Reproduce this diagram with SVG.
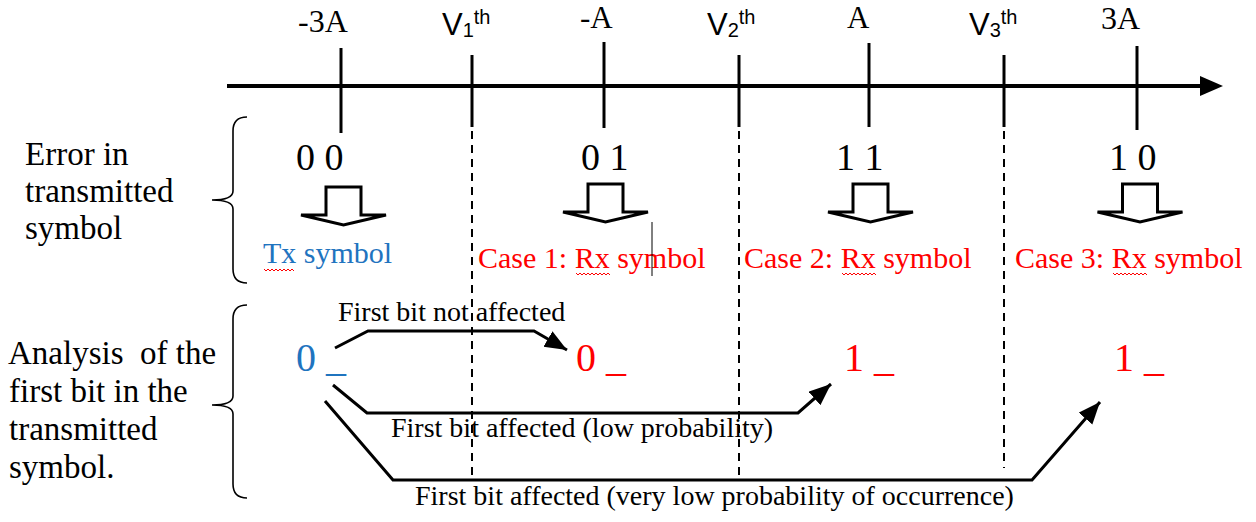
<svg xmlns="http://www.w3.org/2000/svg" width="1256" height="522" viewBox="0 0 1256 522">
<style>
.serif{font-family:"Liberation Serif","Times New Roman",serif;fill:#000}
.sans{font-family:"Liberation Sans",Arial,sans-serif;fill:#000}
.blue{fill:#1f74bf}
.red{fill:#ff0000}
.axis{stroke:#000;stroke-width:4;fill:none}
.tick{stroke:#000;stroke-width:3;fill:none}
.dash{stroke:#000;stroke-width:2;stroke-dasharray:8 6;fill:none}
.conn{stroke:#000;stroke-width:3;fill:none;stroke-linejoin:miter}
.brace{stroke:#000;stroke-width:1.6;fill:none}
.hollow{stroke:#000;stroke-width:3;fill:#fff;stroke-linejoin:miter}
.squig{stroke:#ff0000;stroke-width:1;fill:none}
</style>
<defs>
<marker id="ah" markerUnits="userSpaceOnUse" markerWidth="24" markerHeight="20" refX="22" refY="9" orient="auto">
<path d="M0,0 L22,9 L0,18 Z" fill="#000"/>
</marker>
<path id="blockArrow" d="M-17.5,-38 H17.5 V-10 H42.5 L0,0 L-42.5,-10 H-17.5 Z"/>
</defs>

<g id="axis">
<line class="axis" x1="227" y1="86" x2="1204" y2="86"/>
<polygon points="1200,76 1223,86 1200,96" fill="#000"/>
<line class="tick" x1="341" y1="48" x2="341" y2="133"/>
<line class="tick" x1="472" y1="55" x2="472" y2="127"/>
<line class="tick" x1="604" y1="42" x2="604" y2="128"/>
<line class="tick" x1="739" y1="55" x2="739" y2="127"/>
<line class="tick" x1="869" y1="43" x2="869" y2="127"/>
<line class="tick" x1="1004" y1="55" x2="1004" y2="127"/>
<line class="tick" x1="1137" y1="46" x2="1137" y2="130"/>
</g>

<g id="axis-labels">
<text class="serif" x="298" y="32" font-size="32">-3A</text>
<text class="serif" x="580" y="28" font-size="31">-A</text>
<text class="serif" x="847" y="28" font-size="31">A</text>
<text class="serif" x="1101" y="29" font-size="32">3A</text>
<text class="sans" x="442" y="35" font-size="31">V<tspan font-size="20" dy="2">1</tspan><tspan font-size="20" dy="-13">th</tspan></text>
<text class="sans" x="707" y="35" font-size="31">V<tspan font-size="20" dy="2">2</tspan><tspan font-size="20" dy="-13">th</tspan></text>
<text class="sans" x="969" y="35" font-size="31">V<tspan font-size="20" dy="2">3</tspan><tspan font-size="20" dy="-13">th</tspan></text>
</g>

<g id="thresholds">
<line class="dash" x1="472" y1="131" x2="472" y2="477"/>
<line class="dash" x1="739" y1="131" x2="739" y2="477"/>
<line class="dash" x1="1004" y1="131" x2="1004" y2="468"/>
</g>

<g id="brace-top">
<path class="brace" d="M247,117 Q233,117 233,131 L233,191 Q233,200 212,200 Q233,200 233,209 L233,269 Q233,283 247,283"/>
<text class="serif" font-size="33" x="25" y="165">Error in</text>
<text class="serif" font-size="33" x="25" y="202">transmitted</text>
<text class="serif" font-size="33" x="25" y="239">symbol</text>
</g>

<g id="brace-bottom">
<path class="brace" d="M247,305 Q233,305 233,319 L233,396 Q233,405 212,405 Q233,405 233,414 L233,484 Q233,498 247,498"/>
<text class="serif" font-size="33" x="8" y="364" xml:space="preserve">Analysis  of the</text>
<text class="serif" font-size="33" x="9" y="402">first bit in the</text>
<text class="serif" font-size="33" x="9" y="440">transmitted</text>
<text class="serif" font-size="33" x="9" y="478">symbol.</text>
</g>

<g id="sym-00">
<text class="serif" font-size="38" x="296" y="170">0 0</text>
<use href="#blockArrow" class="hollow" transform="translate(343.5,225)"/>
<text class="serif blue" font-size="30" x="263" y="263">Tx symbol</text>
<path class="squig" d="M264,269 l2,2 l2,-2 l2,2 l2,-2 l2,2 l2,-2 l2,2 l2,-2 l2,2 l2,-2 l2,2 l2,-2 l2,2 l2,-2 l2,2"/>
</g>

<g id="sym-01">
<text class="serif" font-size="38" x="581" y="170">0 1</text>
<use href="#blockArrow" class="hollow" transform="translate(605.5,222)"/>
<text class="serif red" font-size="30" x="478" y="268">Case 1: Rx symbol</text>
<path class="squig" d="M576,273 l2,2 l2,-2 l2,2 l2,-2 l2,2 l2,-2 l2,2 l2,-2 l2,2 l2,-2 l2,2 l2,-2 l2,2 l2,-2 l2,2 l2,-2 l2,2"/>
<line x1="652" y1="222" x2="652" y2="276" stroke="#000" stroke-width="1"/>
</g>

<g id="sym-11">
<text class="serif" font-size="38" x="836" y="170">1 1</text>
<use href="#blockArrow" class="hollow" transform="translate(870.5,222)"/>
<text class="serif red" font-size="30" x="744" y="268">Case 2: Rx symbol</text>
<path class="squig" d="M842,273 l2,2 l2,-2 l2,2 l2,-2 l2,2 l2,-2 l2,2 l2,-2 l2,2 l2,-2 l2,2 l2,-2 l2,2 l2,-2 l2,2 l2,-2 l2,2"/>
</g>

<g id="sym-10">
<text class="serif" font-size="38" x="1109" y="170">1 0</text>
<use href="#blockArrow" class="hollow" transform="translate(1140,222)"/>
<text class="serif red" font-size="30" x="1015" y="268">Case 3: Rx symbol</text>
<path class="squig" d="M1113,273 l2,2 l2,-2 l2,2 l2,-2 l2,2 l2,-2 l2,2 l2,-2 l2,2 l2,-2 l2,2 l2,-2 l2,2 l2,-2 l2,2 l2,-2 l2,2"/>
</g>

<g id="bits">
<text class="serif blue" font-size="40" x="296" y="371">0 _</text>
<text class="serif red" font-size="40" x="576" y="371">0 _</text>
<text class="serif red" font-size="40" x="844" y="371">1 _</text>
<text class="serif red" font-size="40" x="1114" y="371">1 _</text>
</g>

<g id="connectors">
<path class="conn" d="M335,348 L368,331 H534 L567,350" marker-end="url(#ah)"/>
<path class="conn" d="M333,385 L367,413 H798 L831,384" marker-end="url(#ah)"/>
<path class="conn" d="M325,401 L393,480 H1032 L1100,402" marker-end="url(#ah)"/>
</g>

<g id="connector-labels">
<text class="serif" font-size="28" x="338" y="321">First bit not affected</text>
<text class="serif" font-size="28" x="391" y="437">First bit affected (low probability)</text>
<text class="serif" font-size="28" x="415" y="505">First bit affected (very low probability of occurrence)</text>
</g>
</svg>
